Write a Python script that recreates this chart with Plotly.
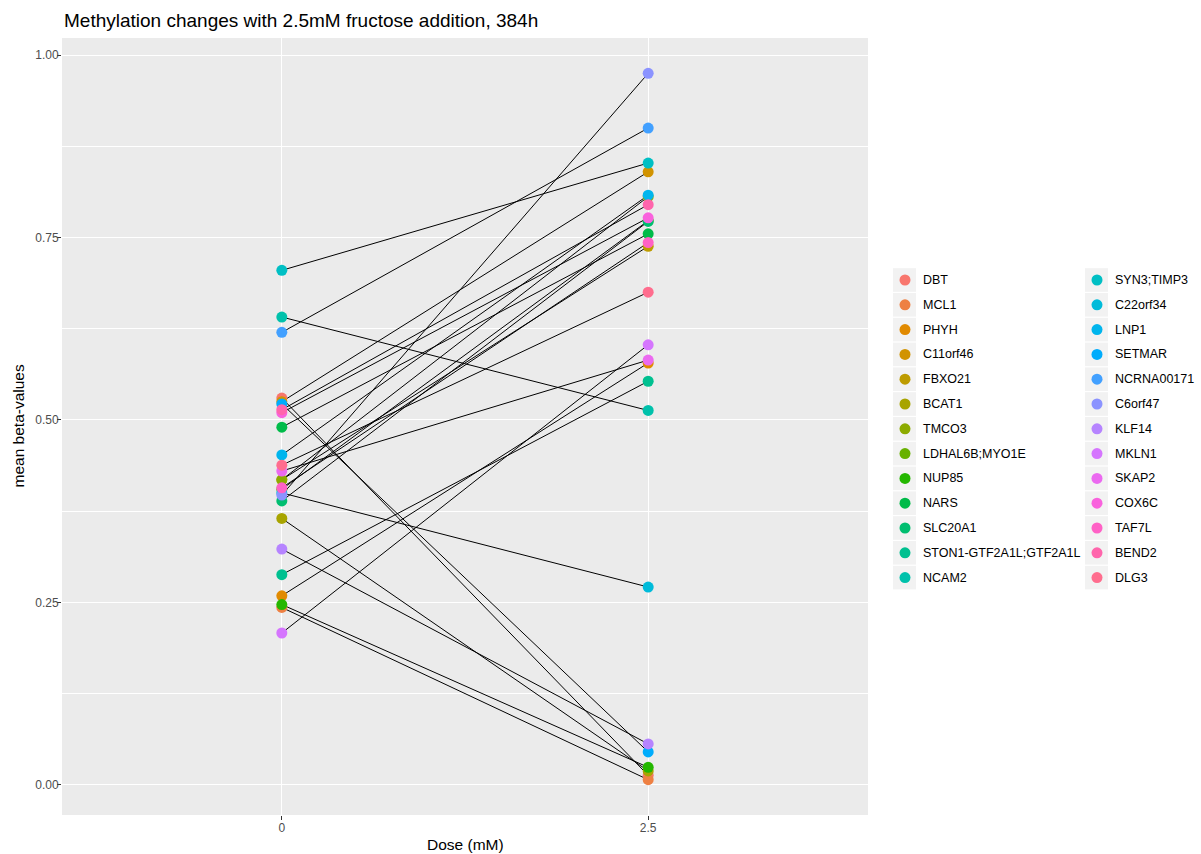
import math
import plotly.graph_objects as go

# Gene names in legend order
genes = ["DBT", "MCL1", "PHYH", "C11orf46", "FBXO21", "BCAT1", "TMCO3",
         "LDHAL6B;MYO1E", "NUP85", "NARS", "SLC20A1", "STON1-GTF2A1L;GTF2A1L",
         "NCAM2", "SYN3;TIMP3", "C22orf34", "LNP1", "SETMAR", "NCRNA00171",
         "C6orf47", "KLF14", "MKLN1", "SKAP2", "COX6C", "TAF7L", "BEND2", "DLG3"]

# Mean beta-values at 0 mM and 2.5 mM fructose
beta_0mM = [0.530, 0.243, 0.259, 0.525, 0.418, 0.365, 0.418,
            0.405, 0.247, 0.490, 0.389, 0.288,
            0.641, 0.705, 0.400, 0.452, 0.522, 0.620,
            0.397, 0.323, 0.208, 0.430, 0.510, 0.407, 0.514, 0.438]
beta_25mM = [0.013, 0.007, 0.578, 0.840, 0.738, 0.019, 0.806,
             0.773, 0.024, 0.755, 0.772, 0.553,
             0.513, 0.852, 0.271, 0.808, 0.045, 0.900,
             0.975, 0.056, 0.603, 0.582, 0.777, 0.743, 0.795, 0.675]

dose_labels = ["0", "2.5"]
y_ticks = [0.0, 0.25, 0.5, 0.75, 1.0]
y_tick_labels = ["0.00", "0.25", "0.50", "0.75", "1.00"]


def hcl_to_hex(h, c=100.0, l=65.0):
    """Polar LUV -> sRGB hex (as used by the default discrete hue scale)."""
    xn, yn, zn = 95.047, 100.0, 108.883
    hr = math.radians(h)
    u = c * math.cos(hr)
    v = c * math.sin(hr)
    y = yn * ((l + 16) / 116) ** 3 if l > 8 else yn * l / 903.3
    un = 4 * xn / (xn + 15 * yn + 3 * zn)
    vn = 9 * yn / (xn + 15 * yn + 3 * zn)
    up = u / (13 * l) + un
    vp = v / (13 * l) + vn
    x = y * 9 * up / (4 * vp)
    z = y * (12 - 3 * up - 20 * vp) / (4 * vp)
    x, y, z = x / 100, y / 100, z / 100
    r = 3.240479 * x - 1.537150 * y - 0.498535 * z
    g = -0.969256 * x + 1.875992 * y + 0.041556 * z
    b = 0.055648 * x - 0.204043 * y + 1.057311 * z

    def gam(t):
        t = 12.92 * t if t <= 0.0031308 else 1.055 * t ** (1 / 2.4) - 0.055
        return max(0, min(255, round(255 * t)))
    return "#%02X%02X%02X" % (gam(r), gam(g), gam(b))


n = len(genes)
colors = [hcl_to_hex(15 + 360 * i / n) for i in range(n)]

W, H = 1201, 854
px_left, px_right, px_top, px_bottom = 62, 868, 38, 815

fig = go.Figure()

# connecting lines
for i, g in enumerate(genes):
    fig.add_trace(go.Scatter(
        x=[1, 2], y=[beta_0mM[i], beta_25mM[i]], mode="lines",
        line=dict(color="black", width=1), hoverinfo="skip", showlegend=False))

# points
for i, g in enumerate(genes):
    fig.add_trace(go.Scatter(
        x=[1, 2], y=[beta_0mM[i], beta_25mM[i]], mode="markers", name=g,
        marker=dict(color=colors[i], size=11, line=dict(width=0)),
        showlegend=False))

all_vals = beta_0mM + beta_25mM
span = max(all_vals) - min(all_vals)
y_range = [min(all_vals) - 0.05 * span, max(all_vals) + 0.05 * span]

# legend region, in pixel coordinates on its own axes
leg_x0, leg_x1, leg_y0, leg_y1 = 880, W, 255, 600
rows = 13
row_h = 24.8
row0 = 280
cols = [dict(key_x0=893, key_x1=916, dot_x=905, text_x=921),
        dict(key_x0=1085, key_x1=1108, dot_x=1097, text_x=1113)]
shapes = [dict(type="rect", xref="x domain", yref="y domain",
               x0=0, x1=1, y0=0, y1=1, fillcolor="#EBEBEB",
               line=dict(width=0), layer="below")]
annotations = []
lx, ly = [], []
for i, g in enumerate(genes):
    c = cols[i // rows]
    cy = row0 + (i % rows) * row_h
    shapes.append(dict(type="rect", xref="x2", yref="y2",
                       x0=c["key_x0"], x1=c["key_x1"],
                       y0=cy - row_h / 2 + 0.6, y1=cy + row_h / 2 - 0.6,
                       fillcolor="#F2F2F2", line=dict(width=0), layer="below"))
    lx.append(c["dot_x"])
    ly.append(cy)
    annotations.append(dict(x=c["text_x"], y=cy, xref="x2", yref="y2",
                            text=g, showarrow=False, xanchor="left",
                            yanchor="middle",
                            font=dict(size=12.5, color="black")))

fig.add_trace(go.Scatter(x=lx, y=ly, xaxis="x2", yaxis="y2", mode="markers",
                         marker=dict(color=colors, size=11, line=dict(width=0)),
                         hoverinfo="skip", showlegend=False))

annotations += [
    dict(x=px_left / W, y=1 - 20 / H, xref="paper", yref="paper",
         text="Methylation changes with 2.5mM fructose addition, 384h",
         showarrow=False, xanchor="left", yanchor="middle",
         font=dict(size=19, color="black")),
    dict(x=(px_left + px_right) / 2 / W, y=1 - 844 / H, xref="paper", yref="paper",
         text="Dose (mM)", showarrow=False, xanchor="center", yanchor="middle",
         font=dict(size=15.5, color="black")),
    dict(x=18 / W, y=1 - (px_top + px_bottom) / 2 / H, xref="paper", yref="paper",
         text="mean beta-values", showarrow=False, textangle=-90,
         xanchor="center", yanchor="middle",
         font=dict(size=15.5, color="black")),
]

fig.update_layout(
    width=W, height=H,
    margin=dict(l=0, r=0, t=0, b=0),
    paper_bgcolor="white",
    plot_bgcolor="rgba(0,0,0,0)",
    font=dict(family="Liberation Sans, Arial, sans-serif"),
    showlegend=False,
    xaxis=dict(domain=[px_left / W, px_right / W], range=[0.4, 2.6],
               tickvals=[1, 2], ticktext=dose_labels, showgrid=True,
               gridcolor="white", gridwidth=1.3, zeroline=False,
               ticks="outside", ticklen=4, tickcolor="#333333", tickwidth=1,
               tickfont=dict(size=12, color="#4D4D4D"), showline=False,
               ticklabelstandoff=-2, fixedrange=True),
    yaxis=dict(domain=[1 - px_bottom / H, 1 - px_top / H], range=y_range,
               tickvals=y_ticks, ticktext=y_tick_labels, showgrid=True,
               gridcolor="white", gridwidth=1.3, zeroline=False,
               ticks="outside", ticklen=4, tickcolor="#333333", tickwidth=1,
               tickfont=dict(size=12, color="#4D4D4D"), showline=False,
               ticklabelstandoff=-4,
               minor=dict(tickvals=[0.125, 0.375, 0.625, 0.875], showgrid=True,
                          gridcolor="white", gridwidth=0.6, ticks=""),
               fixedrange=True),
    xaxis2=dict(domain=[leg_x0 / W, leg_x1 / W], range=[leg_x0, leg_x1],
                visible=False, anchor="y2", fixedrange=True),
    yaxis2=dict(domain=[1 - leg_y1 / H, 1 - leg_y0 / H], range=[leg_y1, leg_y0],
                visible=False, anchor="x2", fixedrange=True),
    shapes=shapes,
    annotations=annotations,
)

fig.write_html("out.html")
